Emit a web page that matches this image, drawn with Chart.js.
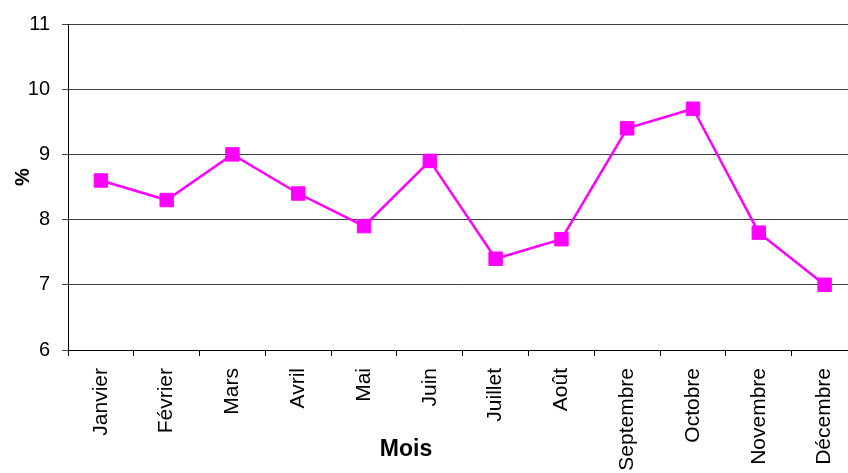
<!DOCTYPE html>
<html>
<head>
<meta charset="utf-8">
<script src="https://cdn.jsdelivr.net/npm/chart.js@4"></script>
<style>
  html, body { margin: 0; padding: 0; overflow: hidden; background: #fff; }
  #chart { display: block; }
</style>
</head>
<body>
<canvas id="chart" width="868" height="473"></canvas>
<script>
// monthly values (%)
const months = ['Janvier', 'Février', 'Mars', 'Avril', 'Mai', 'Juin', 'Juillet', 'Août', 'Septembre', 'Octobre', 'Novembre', 'Décembre'];
const values = [8.6, 8.3, 9.0, 8.4, 7.9, 8.9, 7.4, 7.7, 9.4, 9.7, 7.8, 7.0];
const yMin = 6;
const yMax = 11;
const xTitle = 'Mois';
const yTitle = '%';

// axis titles drawn by hand so they sit where the original has them
const titlesPlugin = {
    id: 'titles',
    afterDraw(chart){
        const ctx = chart.ctx;
        ctx.save();
        ctx.fillStyle = '#000';
        ctx.textAlign = 'center';
        ctx.textBaseline = 'middle';
        ctx.font = 'bold 23px "Liberation Sans", Arial, sans-serif';
        ctx.fillText(xTitle, 406, 450);
        ctx.translate(23, 177);
        ctx.rotate(-Math.PI / 2);
        ctx.font = 'bold 20px "Liberation Sans", Arial, sans-serif';
        ctx.fillText(yTitle, 0, 0);
        ctx.restore();
    }
};

const ctx = document.getElementById('chart');
new Chart(ctx, {
    type: 'line',
    data: {
        labels: months,
        datasets: [{
            data: values,
            borderColor: '#ff00ff',
            backgroundColor: '#ff00ff',
            borderWidth: 2.5,
            pointStyle: 'rect',
            pointRadius: 9.5,
            pointBorderWidth: 1,
            pointBorderColor: '#ff00ff',
            pointBackgroundColor: '#ff00ff',
            tension: 0
        }]
    },
    options: {
        responsive: false,
        animation: false,
        layout: { padding: { top: 11, left: 0, right: 0, bottom: 0 } },
        plugins: {
            legend: { display: false },
            tooltip: { enabled: false }
        },
        scales: {
            x: {
                offset: true,
                afterFit(scale){ scale.height = 123; },
                grid: {
                    offset: true,
                    drawOnChartArea: false,
                    drawTicks: true,
                    tickLength: 6,
                    color: '#000'
                },
                border: { color: '#000', width: 1 },
                ticks: {
                    color: '#000',
                    maxRotation: 90,
                    minRotation: 90,
                    padding: 12,
                    autoSkip: false,
                    font: { family: '"Liberation Sans", Arial, sans-serif', size: 21 }
                }
            },
            y: {
                min: yMin,
                max: yMax,
                afterFit(scale){ scale.width = 68; },
                grid: {
                    color: '#404040',
                    lineWidth: 1,
                    tickLength: 6
                },
                border: { color: '#000', width: 1 },
                ticks: {
                    stepSize: 1,
                    color: '#000',
                    padding: 12,
                    font: { family: '"Liberation Sans", Arial, sans-serif', size: 20 }
                }
            }
        }
    },
    plugins: [titlesPlugin]
});
</script>
</body>
</html>
